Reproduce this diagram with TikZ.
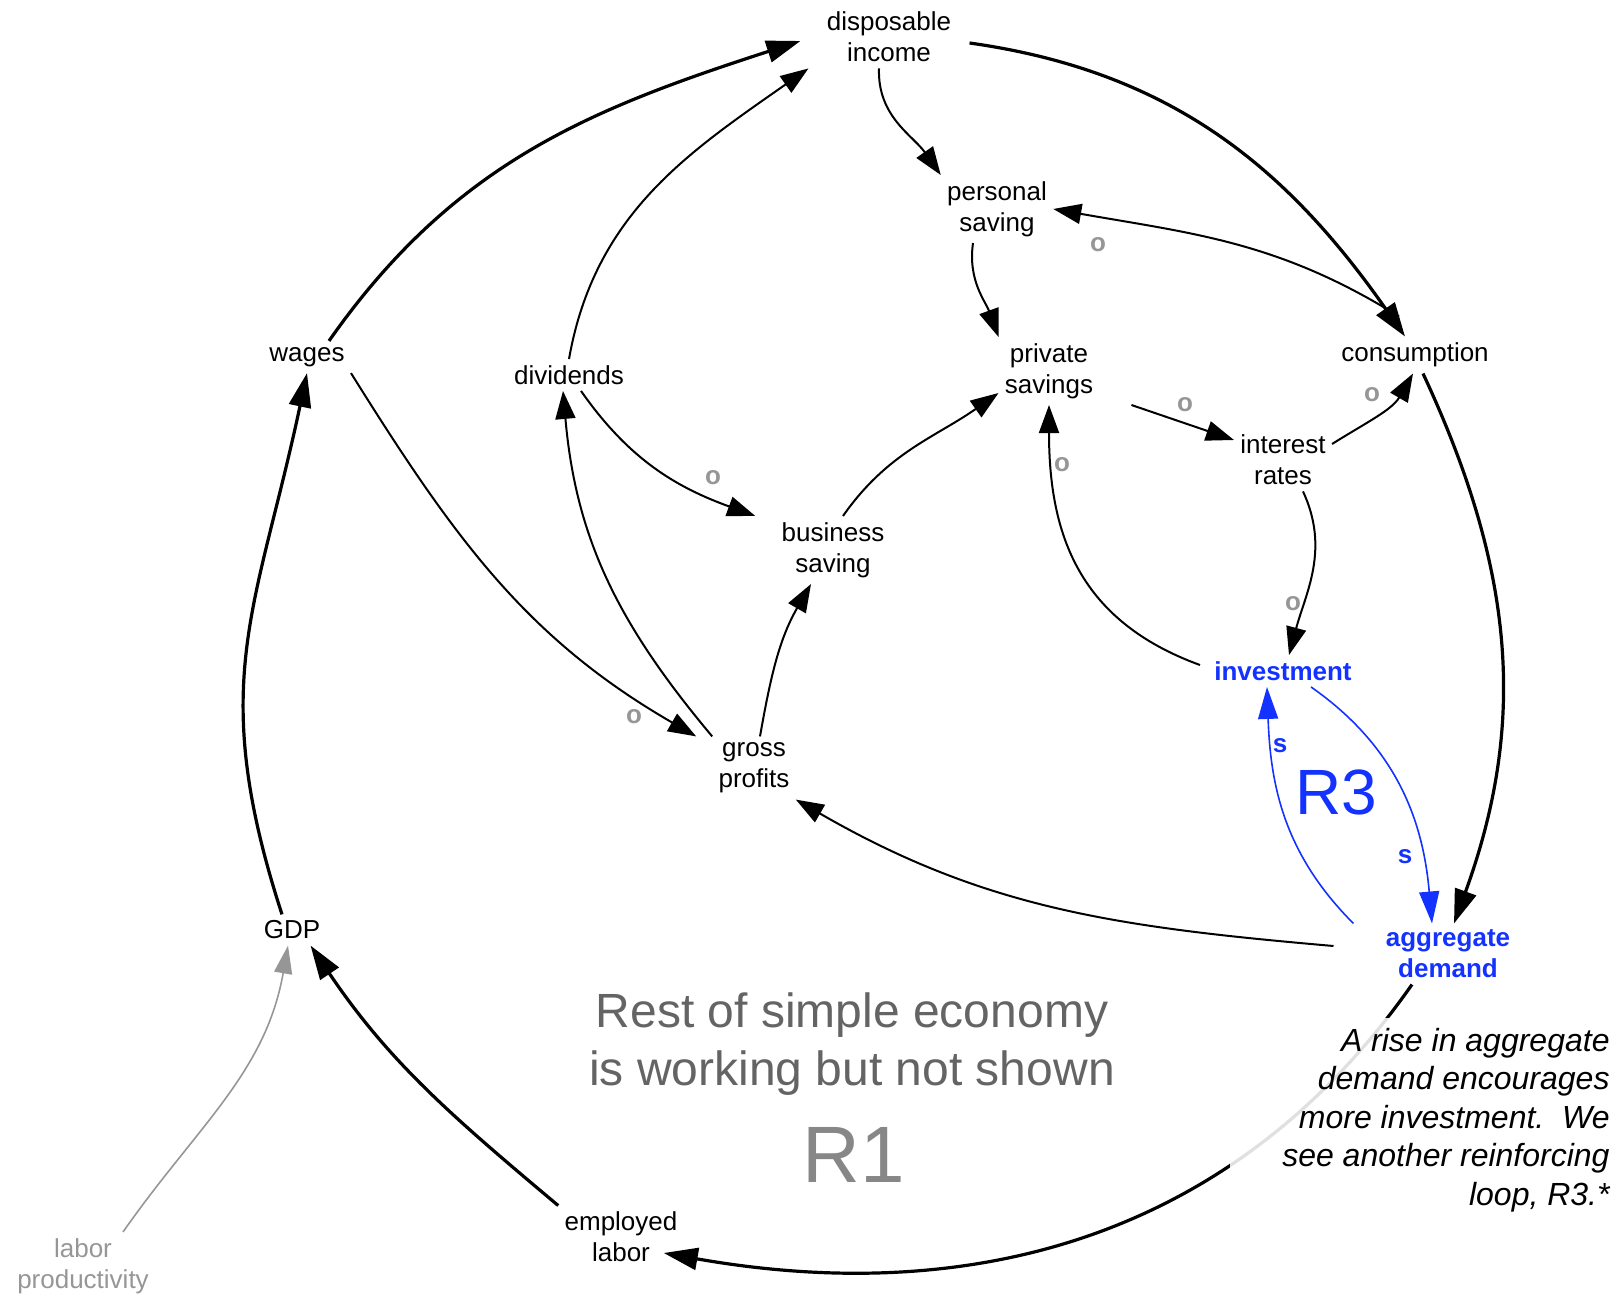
\documentclass[tikz,border=0pt]{standalone}
\usepackage{fontspec}
\setmainfont{Liberation Sans}
\usetikzlibrary{arrows.meta}

\definecolor{loopblue}{RGB}{20,50,255}
\definecolor{polgray}{RGB}{150,150,150}
\definecolor{restgray}{RGB}{100,100,100}
\definecolor{loopgray}{RGB}{135,135,135}

\tikzset{
  var/.style={align=center, inner sep=3pt, font=\fontsize{13}{15.5}\selectfont},
  bluevar/.style={var, text=loopblue, font=\bfseries\fontsize{13}{15.5}\selectfont},
  link/.style={-{Triangle[length=14pt,width=10pt]}, line width=1pt},
  mainlink/.style={-{Triangle[length=17pt,width=11pt]}, line width=1.6pt},
  bluelink/.style={-{Triangle[length=16pt,width=10pt]}, line width=0.8pt, draw=loopblue},
  pol/.style={inner sep=0pt, font=\bfseries\fontsize{13}{15}\selectfont, text=polgray},
  bluepol/.style={pol, text=loopblue},
}

\begin{document}
\begin{tikzpicture}[x=0.5pt, y=0.5pt]
        \useasboundingbox (0,0) rectangle (1624,-1300);
        % Variables
        \node[var] (disp) at (889,-37) {disposable\\income};
        \node[var] (psav) at (997,-209) {personal\\saving};
        \node[var] (prsav) at (1049,-371) {private\\savings};
        \node[var] (cons) at (1415,-355) {consumption};
        \node[var] (wages) at (307,-357) {wages};
        \node[var] (div) at (569,-375) {dividends};
        \node[var] (irate) at (1283,-460) {interest\\rates};
        \node[var] (bsav) at (833,-550) {business\\saving};
        \node[bluevar] (inv) at (1283,-671) {investment};
        \node[var] (gprof) at (754,-768) {gross\\profits};
        \node[var] (gdp) at (292,-930) {GDP};
        \node[bluevar] (ad) at (1448,-954) {aggregate\\demand};
        \node[var] (emp) at (621,-1237) {employed\\labor};
        \node[var, text=polgray] (lprod) at (83,-1266) {labor\\productivity};

        % Outer loop R1
        \draw[mainlink] ([xshift=-5pt]gdp.north) to[out=108, in=-102, looseness=1.15] (wages.south);
        \draw[mainlink] ([xshift=11pt]wages.north) to[out=55, in=198] ([xshift=-10pt, yshift=-2pt]disp.west);
        \draw[mainlink] ([xshift=6pt, yshift=-3pt]disp.east) to[out=-8, in=125] ([xshift=-5pt]cons.north);
        \draw[mainlink] ([xshift=4pt]cons.south) to[out=-65, in=70] ([xshift=3pt]ad.north);
        \draw[mainlink] ([xshift=-18pt]ad.south) to[out=-125, in=-10] ([xshift=-10pt, yshift=-8pt]emp.east);
        \draw[mainlink] (emp.north west) to[out=140, in=-56] ([xshift=-8pt]gdp.south east);
        \draw[-{Triangle[length=14pt,width=9pt]}, line width=0.8pt, polgray] ([xshift=20pt]lprod.north) to[out=55, in=-100] ([xshift=-2pt]gdp.south);

        % Inner links
        \draw[link] (div.north) to[out=80, in=215] ([xshift=-6pt]disp.south west);
        \draw[link] ([xshift=-5pt]disp.south) to[out=268, in=125] (psav.north west);
        \draw[link] ([xshift=-8pt, yshift=10pt]cons.north) to[out=148, in=-10] (psav.east);
        \draw[link] ([xshift=-12pt]psav.south) to[out=262, in=110] (prsav.north west);
        \draw[link] ([xshift=5pt]bsav.north) to[out=55, in=215] ([yshift=6pt]prsav.south west);
        \draw[link] ([xshift=16pt]prsav.south east) -- ([yshift=10pt]irate.west);
        \draw[link] ([yshift=8pt]irate.east) to[out=32, in=240] ([xshift=-1pt]cons.south);
        \draw[link] ([xshift=10pt]irate.south) to[out=-65, in=75] ([xshift=3pt]inv.north);
        \draw[link] ([xshift=-4pt, yshift=3pt]inv.west) to[out=160, in=-90, looseness=1.1] (prsav.south);
        \draw[link] ([xshift=6pt]div.south) to[out=-55, in=160] ([xshift=-10pt]bsav.north west);
        \draw[link] (gprof.north west) to[out=130, in=-85] ([xshift=-3pt]div.south);
        \draw[link] ([xshift=3pt]gprof.north) to[out=80, in=240] ([xshift=-11pt]bsav.south);
        \draw[link] (wages.south east) to[out=-58, in=150] ([xshift=-8pt]gprof.north west);
        \draw[link] ([xshift=-23pt, yshift=4pt]ad.west) to[out=175, in=-30] (gprof.south east);

        % Loop R3
        \draw[bluelink] ([xshift=14pt]inv.south) to[out=-35, in=95] ([xshift=-8pt]ad.north);
        \draw[bluelink] ([xshift=-13pt]ad.north west) to[out=135, in=-88] ([xshift=-8pt]inv.south);

        % Polarities
        \node[pol] (o1) at (1098,-245) {o};
        \node[pol] (o2) at (1185,-405) {o};
        \node[pol] (o3) at (1372,-395) {o};
        \node[pol] (o4) at (1293,-604) {o};
        \node[pol] (o5) at (1062,-465) {o};
        \node[pol] (o6) at (713,-478) {o};
        \node[pol] (o7) at (634,-717) {o};
        \node[bluepol] (s1) at (1405,-857) {s};
        \node[bluepol] (s2) at (1280,-746) {s};

        % Loop labels and notes
        \node[text=loopblue, font=\fontsize{32}{36}\selectfont] (r3) at (1336,-792) {R3};
        \node[text=restgray, align=center, font=\fontsize{24}{29}\selectfont] (rest) at (852,-1044) {Rest of simple economy\\is working but not shown};
        \node[text=loopgray, font=\fontsize{40}{44}\selectfont] (r1) at (854,-1155) {R1};
        \node[align=right, fill=white, fill opacity=0.88, text opacity=1, inner xsep=26pt, inner ysep=5pt,
              font=\itshape\fontsize{16}{19.25}\selectfont, anchor=east] (note) at (1662,-1120)
              {A rise in aggregate\\demand encourages\\more investment.\ \ We\\see another reinforcing\\loop, R3.*};
\end{tikzpicture}
\end{document}
